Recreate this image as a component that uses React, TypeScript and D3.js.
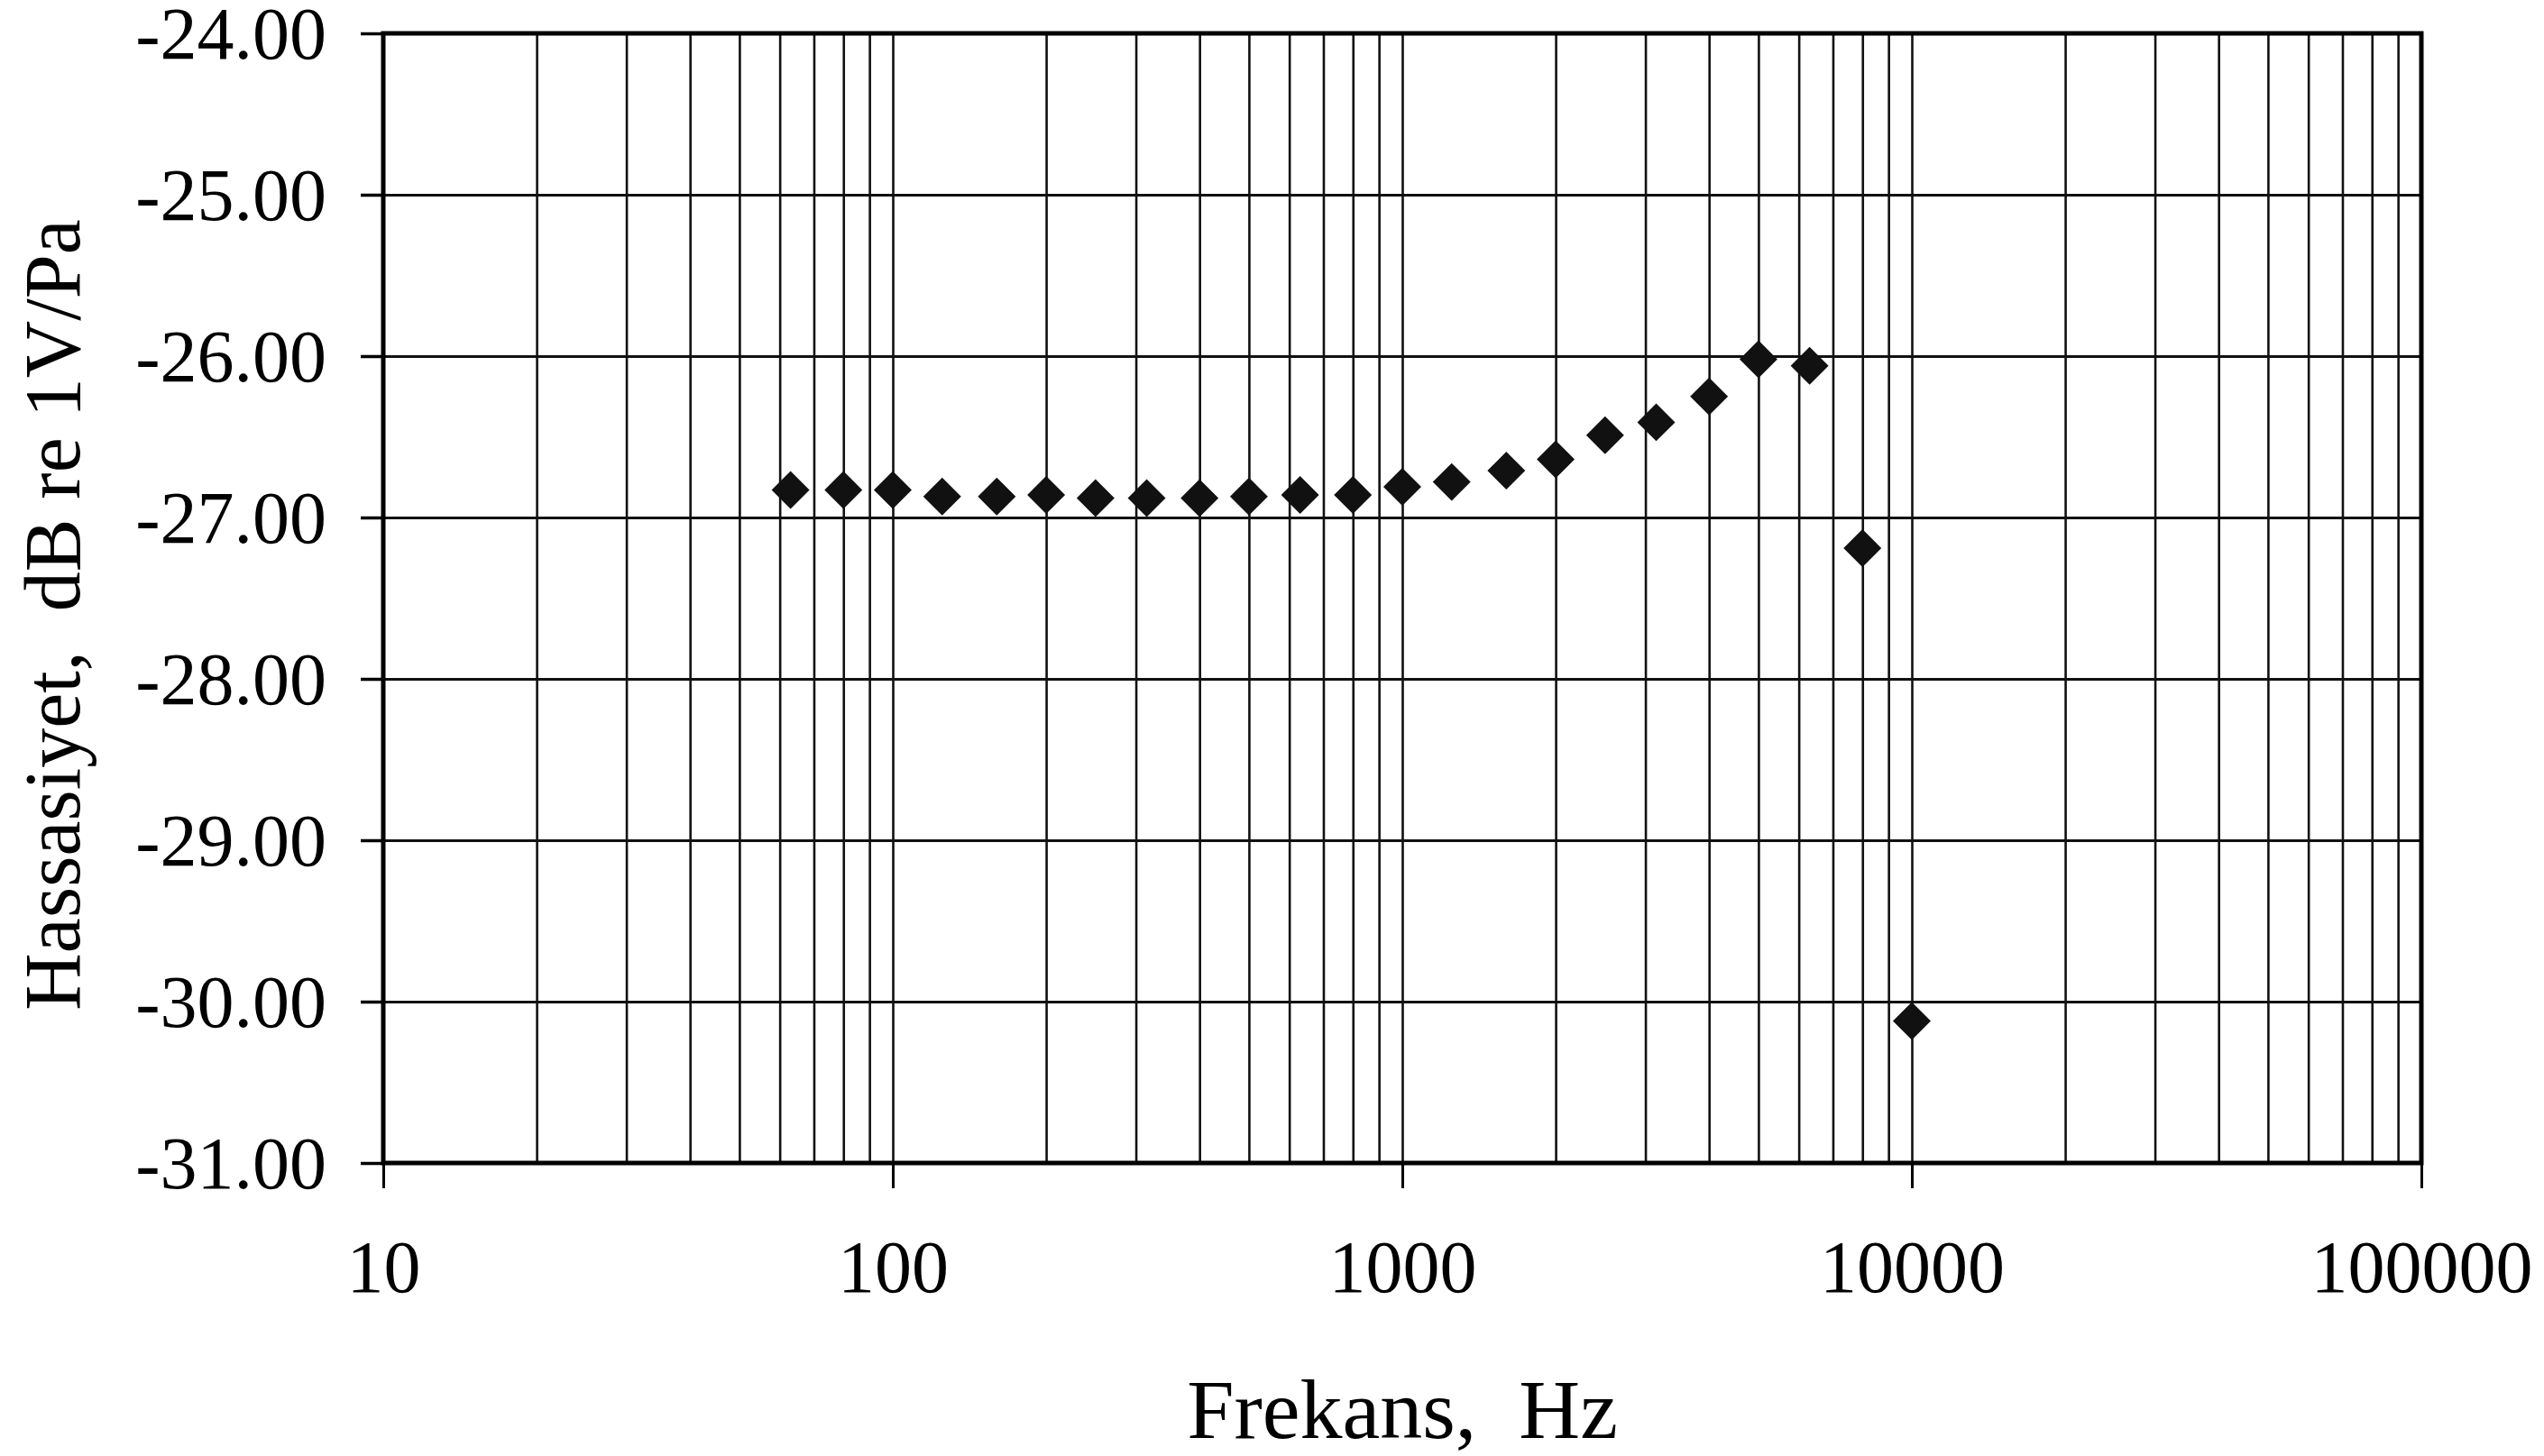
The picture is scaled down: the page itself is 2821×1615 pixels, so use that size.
import React, { useEffect, useRef } from 'react';
import * as d3 from 'd3';

// third-octave centre frequencies, Hz
const frequencies = [
  63, 80, 100, 125, 160, 200, 250, 315, 400, 500, 630, 800, 1000, 1250, 1600, 2000, 2500, 3150,
  4000, 5000, 6300, 8000, 10000
];
// measured sensitivity, dB re 1V/Pa
const sensitivities = [
  -26.83, -26.83, -26.83, -26.87, -26.87, -26.86, -26.88, -26.88, -26.88, -26.87, -26.86, -26.86,
  -26.81, -26.78, -26.71, -26.64, -26.49, -26.41, -26.25, -26.02, -26.06, -27.19, -30.12
];
const yTickValues = [-24, -25, -26, -27, -28, -29, -30, -31];
const xTickLabels = [10, 100, 1000, 10000, 100000];

const width = 2821;
const height = 1615;
const margin = { t: 37, r: 136, b: 325, l: 425 };
const serif = '"Liberation Serif", "Times New Roman", serif';

export default function App(): JSX.Element {
  const gridRef = useRef<SVGGElement>(null);
  const axisLeftRef = useRef<SVGGElement>(null);
  const axisBottomRef = useRef<SVGGElement>(null);

  const innerW = width - margin.l - margin.r;
  const innerH = height - margin.t - margin.b;

  const xScale = d3.scaleLog().domain([10, 100000]).range([0, innerW]);
  const yScale = d3.scaleLinear().domain([-31, -24]).range([innerH, 0]);

  useEffect(() => {
    document.body.style.margin = '0';
    document.body.style.overflow = 'hidden';

    const gridEl = d3.select(gridRef.current);
    const leftEl = d3.select(axisLeftRef.current);
    const bottomEl = d3.select(axisBottomRef.current);
    // clear to prevent double rendering
    gridEl.selectAll('*').remove();
    leftEl.selectAll('*').remove();
    bottomEl.selectAll('*').remove();

    // vertical grid: every 1..9 multiple of each decade
    gridEl
      .append('g')
      .call(d3.axisBottom(xScale).tickValues(xScale.ticks()).tickSize(innerH).tickFormat(() => ''))
      .call((g) => g.select('.domain').remove())
      .selectAll('line')
      .attr('stroke', '#111')
      .attr('stroke-width', 2.6);

    // horizontal grid
    gridEl
      .append('g')
      .call(d3.axisLeft(yScale).tickValues(yTickValues).tickSize(-innerW).tickFormat(() => ''))
      .call((g) => g.select('.domain').remove())
      .selectAll('line')
      .attr('stroke', '#111')
      .attr('stroke-width', 3);

    // left axis
    leftEl
      .call(
        d3
          .axisLeft(yScale)
          .tickValues(yTickValues)
          .tickSize(25)
          .tickPadding(38)
          .tickFormat((d) => (d as number).toFixed(2))
      )
      .call((g) => g.select('.domain').remove())
      .attr('font-family', serif)
      .attr('font-size', 82);
    leftEl.selectAll('line').attr('stroke', '#000').attr('stroke-width', 3.5);
    leftEl.selectAll('text').attr('fill', '#000').attr('dy', '0.34em');

    // bottom axis
    bottomEl
      .call(
        d3
          .axisBottom(xScale)
          .tickValues(xTickLabels)
          .tickSize(28)
          .tickPadding(57)
          .tickFormat((d) => String(d))
      )
      .call((g) => g.select('.domain').remove())
      .attr('font-family', serif)
      .attr('font-size', 82);
    bottomEl.selectAll('line').attr('stroke', '#000').attr('stroke-width', 3);
    bottomEl.selectAll('text').attr('fill', '#000');
  }, [innerW, innerH]);

  const diamond = d3.symbol(d3.symbolSquare, 880)() || '';

  return (
    <svg
      width={width}
      height={height}
      style={{ position: 'absolute', left: 0, top: 0, background: '#fff' }}
    >
      <rect width={width} height={height} fill="#fff" />
      <g ref={gridRef} transform={`translate(${margin.l},${margin.t})`} />
      <rect
        x={margin.l}
        y={margin.t}
        width={innerW}
        height={innerH}
        fill="none"
        stroke="#000"
        strokeWidth={5}
      />
      <g ref={axisLeftRef} transform={`translate(${margin.l},${margin.t})`} />
      <g ref={axisBottomRef} transform={`translate(${margin.l},${margin.t + innerH})`} />

      <g transform={`translate(${margin.l},${margin.t})`}>
        {frequencies.map((f, i) => (
          <path
            key={f}
            d={diamond}
            transform={`translate(${xScale(f)},${yScale(sensitivities[i])}) rotate(45)`}
            fill="#111"
          />
        ))}
      </g>

      <text
        x={margin.l + innerW / 2}
        y={1595}
        textAnchor="middle"
        fontFamily={serif}
        fontSize={94}
        fill="#000"
        style={{ whiteSpace: 'pre' }}
      >
        {'Frekans,  Hz'}
      </text>
      <text
        transform={`translate(88,682) rotate(-90)`}
        textAnchor="middle"
        fontFamily={serif}
        fontSize={88}
        fill="#000"
        style={{ whiteSpace: 'pre' }}
      >
        {'Hassasiyet,  dB re 1V/Pa'}
      </text>
    </svg>
  );
}
